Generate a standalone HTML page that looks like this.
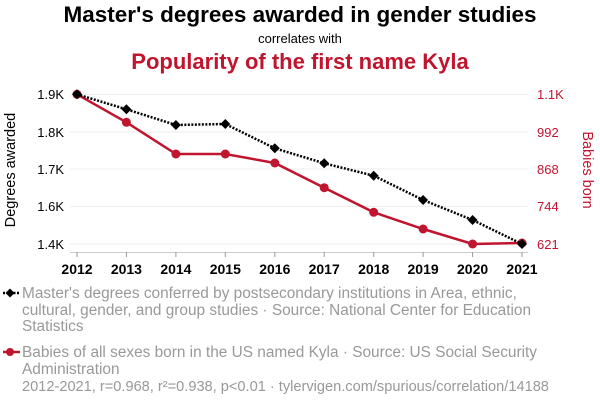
<!DOCTYPE html><html><head><style>body{margin:0;background:#fff;font-family:"Liberation Sans",sans-serif}</style></head><body>
<svg width="600" height="408" xmlns="http://www.w3.org/2000/svg" font-family="Liberation Sans, sans-serif">
<text x="300" y="22" text-anchor="middle" font-size="22.5" font-weight="bold" fill="#000">Master's degrees awarded in gender studies</text>
<text x="300" y="43" text-anchor="middle" font-size="13" fill="#000">correlates with</text>
<text x="300" y="69" text-anchor="middle" font-size="22" font-weight="bold" fill="#c0152f">Popularity of the first name Kyla</text>
<g stroke="#eee" stroke-width="1">
<line x1="70" x2="528" y1="94.5" y2="94.5"/><line x1="70" x2="528" y1="132" y2="132"/><line x1="70" x2="528" y1="169" y2="169"/><line x1="70" x2="528" y1="206.5" y2="206.5"/><line x1="70" x2="528" y1="244" y2="244"/>
</g>
<line x1="70" x2="528" y1="252.5" y2="252.5" stroke="#ccc"/>
<g stroke="#999"><line x1="77" x2="77" y1="252" y2="257"/><line x1="126.4" x2="126.4" y1="252" y2="257"/><line x1="175.9" x2="175.9" y1="252" y2="257"/><line x1="225.3" x2="225.3" y1="252" y2="257"/><line x1="274.8" x2="274.8" y1="252" y2="257"/><line x1="324.2" x2="324.2" y1="252" y2="257"/><line x1="373.7" x2="373.7" y1="252" y2="257"/><line x1="423.1" x2="423.1" y1="252" y2="257"/><line x1="472.6" x2="472.6" y1="252" y2="257"/><line x1="522" x2="522" y1="252" y2="257"/></g>
<g font-size="14" font-weight="bold" text-anchor="middle" fill="#000">
<text x="77" y="274">2012</text><text x="126.4" y="274">2013</text><text x="175.9" y="274">2014</text><text x="225.3" y="274">2015</text><text x="274.8" y="274">2016</text><text x="324.2" y="274">2017</text><text x="373.7" y="274">2018</text><text x="423.1" y="274">2019</text><text x="472.6" y="274">2020</text><text x="522" y="274">2021</text></g>
<g font-size="13" text-anchor="end" fill="#000">
<text x="64" y="99">1.9K</text><text x="64" y="137">1.8K</text><text x="64" y="174">1.7K</text><text x="64" y="211">1.6K</text><text x="64" y="249">1.4K</text></g>
<g font-size="13" text-anchor="start" fill="#c0152f">
<text x="537" y="99">1.1K</text><text x="537" y="137">992</text><text x="537" y="174">868</text><text x="537" y="211">744</text><text x="537" y="249">621</text></g>
<text transform="translate(15,170) rotate(-90)" text-anchor="middle" font-size="14.5" fill="#000">Degrees awarded</text>
<text transform="translate(583,170) rotate(90)" text-anchor="middle" font-size="14.5" fill="#c0152f">Babies born</text>
<polyline fill="none" stroke="#c0152f" stroke-width="2.5" points="77,94.3 126.4,122.3 175.9,154 225.3,154 274.8,163 324.2,187.7 373.7,212.3 423.1,229 472.6,244 522,243"/>
<g fill="#c0152f"><circle cx="77" cy="94.3" r="4.5"/><circle cx="126.4" cy="122.3" r="4.5"/><circle cx="175.9" cy="154" r="4.5"/><circle cx="225.3" cy="154" r="4.5"/><circle cx="274.8" cy="163" r="4.5"/><circle cx="324.2" cy="187.7" r="4.5"/><circle cx="373.7" cy="212.3" r="4.5"/><circle cx="423.1" cy="229" r="4.5"/><circle cx="472.6" cy="244" r="4.5"/><circle cx="522" cy="243" r="4.5"/></g>
<polyline fill="none" stroke="#000" stroke-width="2.5" stroke-dasharray="2,1.5" points="77,94.3 126.4,109.3 175.9,125 225.3,124 274.8,148.3 324.2,163.3 373.7,175.7 423.1,200 472.6,220 522,244"/>
<g fill="#000"><path d="M77,89.3l5,5l-5,5l-5,-5z"/><path d="M126.4,104.3l5,5l-5,5l-5,-5z"/><path d="M175.9,120l5,5l-5,5l-5,-5z"/><path d="M225.3,119l5,5l-5,5l-5,-5z"/><path d="M274.8,143.3l5,5l-5,5l-5,-5z"/><path d="M324.2,158.3l5,5l-5,5l-5,-5z"/><path d="M373.7,170.7l5,5l-5,5l-5,-5z"/><path d="M423.1,195l5,5l-5,5l-5,-5z"/><path d="M472.6,215l5,5l-5,5l-5,-5z"/><path d="M522,239l5,5l-5,5l-5,-5z"/></g>
<line x1="3" x2="20" y1="293" y2="293" stroke="#000" stroke-width="2.5" stroke-dasharray="2,1.5"/><path d="M10,288.5l4.5,4.5l-4.5,4.5l-4.5,-4.5z"/>
<g font-size="15.4" fill="#999">
<text x="22" y="298">Master's degrees conferred by postsecondary institutions in Area, ethnic,</text>
<text x="22" y="315">cultural, gender, and group studies · Source: National Center for Education</text>
<text x="22" y="331">Statistics</text>
<text x="22" y="357">Babies of all sexes born in the US named Kyla · Source: US Social Security</text>
<text x="22" y="374">Administration</text></g>
<text x="22" y="391" font-size="14.6" fill="#999">2012-2021, r=0.968, r²=0.938, p&lt;0.01 · tylervigen.com/spurious/correlation/14188</text>
<line x1="3" x2="20" y1="352" y2="352" stroke="#c0152f" stroke-width="2.5"/><circle cx="10" cy="352" r="4" fill="#c0152f"/>
</svg></body></html>
